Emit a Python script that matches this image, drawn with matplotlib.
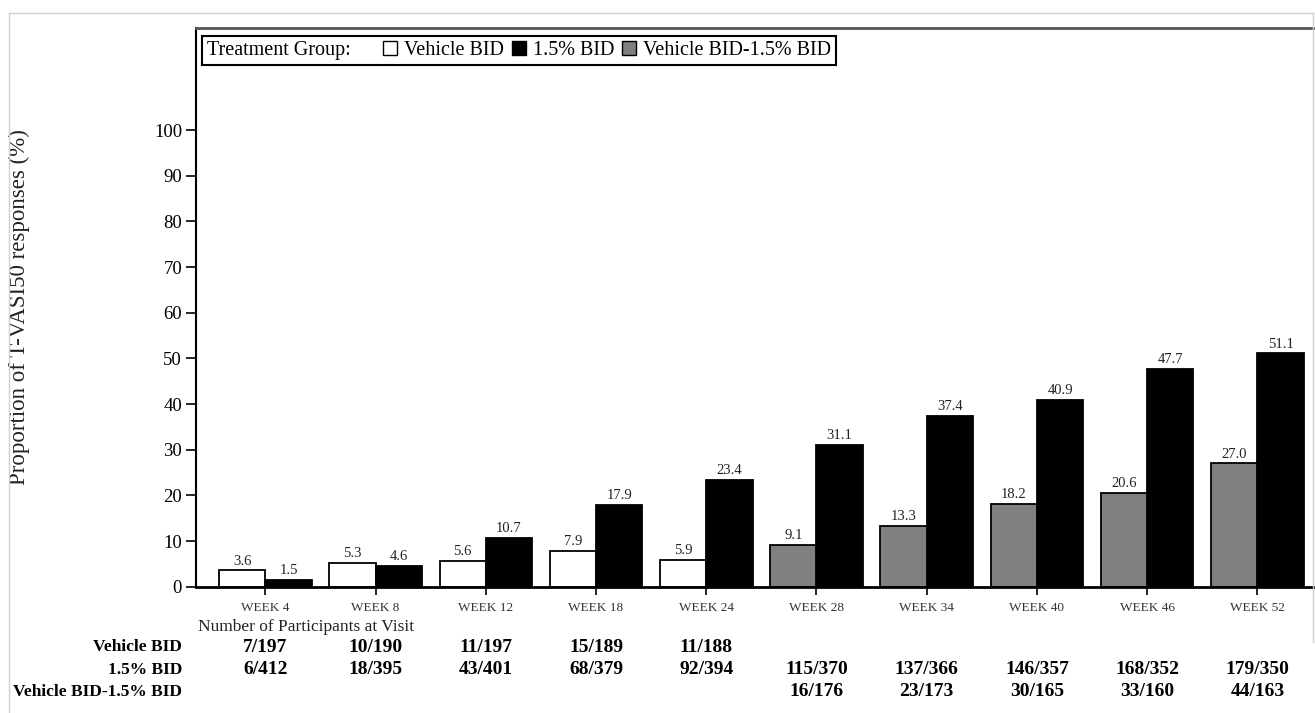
import numpy as np
import matplotlib.pyplot as plt
from matplotlib import rcParams
from matplotlib.patches import Patch
from matplotlib.lines import Line2D
from matplotlib.offsetbox import HPacker
import matplotlib.transforms as mtransforms

rcParams['font.family'] = 'Liberation Serif'

# Data
weeks = ['WEEK 4', 'WEEK 8', 'WEEK 12', 'WEEK 18', 'WEEK 24',
         'WEEK 28', 'WEEK 34', 'WEEK 40', 'WEEK 46', 'WEEK 52']
vehicle = [3.6, 5.3, 5.6, 7.9, 5.9]
active = [1.5, 4.6, 10.7, 17.9, 23.4, 31.1, 37.4, 40.9, 47.7, 51.1]
switched = [9.1, 13.3, 18.2, 20.6, 27.0]

row_names = ['Vehicle BID', '1.5% BID', 'Vehicle BID-1.5% BID']
n_vehicle = ['7/197', '10/190', '11/197', '15/189', '11/188']
n_active = ['6/412', '18/395', '43/401', '68/379', '92/394',
            '115/370', '137/366', '146/357', '168/352', '179/350']
n_switched = ['16/176', '23/173', '30/165', '33/160', '44/163']

x = np.arange(len(weeks))
w = 0.42

fig = plt.figure(figsize=(13.15, 7.13), dpi=100)
ax = fig.add_axes([0.149, 0.177, 0.86, 0.784])

b1 = ax.bar(x[:5] - w / 2, vehicle, w, color='white', edgecolor='black', linewidth=1.3)
b2 = ax.bar(x + w / 2, active, w, color='black', edgecolor='black', linewidth=1.3)
b3 = ax.bar(x[5:] - w / 2, switched, w, color='#808080', edgecolor='black', linewidth=1.3)
for b in (b1, b2, b3):
    ax.bar_label(b, fmt='%.1f', padding=2, fontsize=10.5, color='#222222')

ax.set_xlim(-0.63, 9.63)
ax.set_ylim(0, 122.4)
ax.set_yticks(np.arange(0, 101, 10))
ax.set_xticks(x)
ax.set_xticklabels(weeks, fontsize=9.5, color='#333333')
ax.tick_params(axis='y', labelsize=13.5, length=7, width=1.2, pad=3)
ax.tick_params(axis='x', length=6, width=1.2, pad=5)
ax.spines['right'].set_visible(False)
ax.spines['bottom'].set_linewidth(2)
ax.spines['left'].set_linewidth(1.5)
ax.spines['top'].set_linewidth(2)
ax.spines['top'].set_color('#555555')
ax.set_ylabel('Proportion of T-VASI50 responses (%)', fontsize=16.5, color='#222222')
ax.yaxis.set_label_coords(-0.1466, 0.5)

# Legend with title on the same row
handles = [Patch(facecolor='white', edgecolor='black'),
           Patch(facecolor='black', edgecolor='black'),
           Patch(facecolor='#808080', edgecolor='black')]
leg = ax.legend(handles, ['Vehicle BID', '1.5% BID', 'Vehicle BID-1.5% BID'],
                title='Treatment Group:', ncol=3, loc='upper left',
                bbox_to_anchor=(0.005, 0.986), fontsize=14.5, title_fontsize=14.5,
                fancybox=False, edgecolor='black', framealpha=1,
                handlelength=0.7, handleheight=0.7, handletextpad=0.35,
                columnspacing=0.4, borderpad=0.25, borderaxespad=0)
leg.get_frame().set_linewidth(1.5)
fs = leg._fontsize
leg._legend_box = HPacker(pad=leg.borderpad * fs, sep=1.6 * fs, align='center',
                          children=[leg._legend_title_box, leg._legend_handle_box])
leg._legend_box.set_figure(fig)
leg._legend_box.set_offset(leg._findoffset)

# Participant table below axis
trans = mtransforms.blended_transform_factory(ax.transData, fig.transFigure)
fig.text(198 / 1315, 1 - 627 / 713, 'Number of Participants at Visit',
         fontsize=12.5, va='center', ha='left', color='#222222')
row_y = [1 - 647 / 713, 1 - 670 / 713, 1 - 692 / 713]
for name, yy in zip(row_names, row_y):
    fig.text(182 / 1315, yy, name, fontsize=12.5, fontweight='bold', ha='right', va='center')
for i, s in enumerate(n_vehicle):
    ax.text(x[i], row_y[0], s, transform=trans, fontsize=14, fontweight='bold', ha='center', va='center')
for i, s in enumerate(n_active):
    ax.text(x[i], row_y[1], s, transform=trans, fontsize=14, fontweight='bold', ha='center', va='center')
for i, s in enumerate(n_switched):
    ax.text(x[i + 5], row_y[2], s, transform=trans, fontsize=14, fontweight='bold', ha='center', va='center')

# Faint outer frame
fig.add_artist(Line2D([9 / 1315, 9 / 1315], [0, 1 - 13 / 713], color='#d0d0d0', lw=1, transform=fig.transFigure))
fig.add_artist(Line2D([9 / 1315, 1313 / 1315], [1 - 13 / 713, 1 - 13 / 713], color='#d0d0d0', lw=1, transform=fig.transFigure))
fig.add_artist(Line2D([1313 / 1315, 1313 / 1315], [0.1, 1 - 13 / 713], color='#d0d0d0', lw=1, transform=fig.transFigure))

fig.savefig('out.png', dpi=100)
